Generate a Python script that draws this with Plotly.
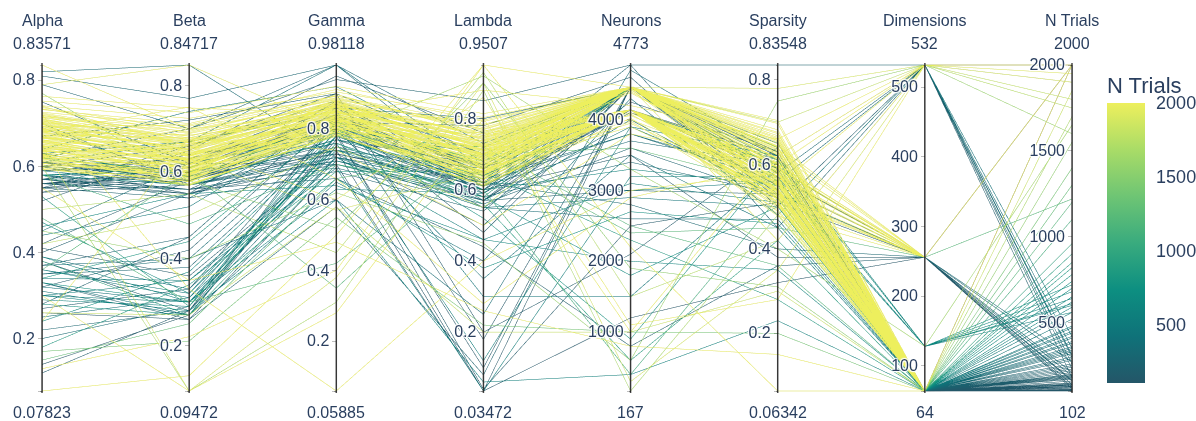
import plotly.graph_objects as go

# Trial records, one entry per run.
# Blocks inside each list: long tuned runs (two neuron settings), short runs, extra short runs, scattered runs.
alpha = [
    0.662, 0.694, 0.631, 0.713, 0.648, 0.683, 0.618, 0.726, 0.641, 0.674, 0.702, 0.607, 0.741, 0.657, 0.689, 0.598, 0.732, 0.652, 0.679, 0.626,
    0.708, 0.669, 0.637, 0.719, 0.593, 0.752, 0.665, 0.697, 0.622, 0.715, 0.646, 0.686, 0.634, 0.705, 0.659, 0.737, 0.611, 0.672, 0.643, 0.699,
    0.763, 0.624, 0.681, 0.655, 0.711, 0.603, 0.692, 0.667, 0.628, 0.722,
    0.638, 0.671, 0.614, 0.703, 0.627, 0.659, 0.601, 0.692, 0.649, 0.681, 0.619, 0.714, 0.636, 0.668, 0.594, 0.724, 0.656, 0.633, 0.688, 0.612,
    0.677, 0.645, 0.623, 0.698, 0.641, 0.734, 0.604, 0.673, 0.662, 0.629, 0.709, 0.617, 0.684, 0.652, 0.693, 0.608, 0.644, 0.701, 0.666, 0.626,
    0.661, 0.718, 0.597, 0.679, 0.647, 0.621, 0.687, 0.639, 0.706, 0.669,
    0.57, 0.59, 0.55, 0.82, 0.79, 0.38, 0.33, 0.30, 0.26, 0.22, 0.40, 0.47, 0.52, 0.58, 0.61, 0.35, 0.29, 0.14, 0.18, 0.37,
    0.56, 0.64, 0.75, 0.31, 0.42, 0.24, 0.58, 0.53, 0.60, 0.69, 0.36, 0.33, 0.27, 0.45, 0.56, 0.63, 0.39, 0.12, 0.57, 0.81,
    0.34, 0.60, 0.28, 0.70, 0.55, 0.46, 0.62, 0.32, 0.59, 0.20, 0.57, 0.67, 0.38, 0.58, 0.44, 0.54, 0.30, 0.61, 0.25, 0.56,
    0.58, 0.56, 0.60, 0.57, 0.55, 0.62, 0.59, 0.35, 0.32, 0.39, 0.28, 0.41, 0.58, 0.61, 0.56, 0.33, 0.57, 0.60, 0.37, 0.54,
    0.63, 0.30, 0.58, 0.55, 0.59, 0.36, 0.57, 0.61, 0.34, 0.56,
    0.83571, 0.79, 0.07823, 0.26, 0.13, 0.65, 0.60, 0.30, 0.72, 0.17, 0.15, 0.50, 0.45, 0.68, 0.77, 0.36, 0.58, 0.74, 0.42, 0.55,
    0.62, 0.70, 0.48, 0.24,
]
beta = [
    0.643, 0.668, 0.612, 0.694, 0.621, 0.657, 0.598, 0.706, 0.633, 0.647, 0.683, 0.588, 0.724, 0.652, 0.671, 0.579, 0.712, 0.627, 0.664, 0.616,
    0.676, 0.638, 0.603, 0.689, 0.584, 0.737, 0.661, 0.645, 0.609, 0.701, 0.641, 0.624, 0.655, 0.667, 0.606, 0.697, 0.594, 0.679, 0.631, 0.651,
    0.748, 0.592, 0.686, 0.618, 0.663, 0.601, 0.709, 0.636, 0.596, 0.674,
    0.608, 0.632, 0.588, 0.661, 0.597, 0.623, 0.578, 0.652, 0.613, 0.641, 0.591, 0.674, 0.618, 0.628, 0.571, 0.683, 0.621, 0.602, 0.654, 0.583,
    0.637, 0.609, 0.586, 0.664, 0.598, 0.691, 0.573, 0.629, 0.617, 0.596, 0.669, 0.581, 0.643, 0.606, 0.648, 0.589, 0.603, 0.658, 0.626, 0.577,
    0.619, 0.679, 0.569, 0.639, 0.611, 0.593, 0.651, 0.599, 0.672, 0.627,
    0.55, 0.62, 0.60, 0.84717, 0.70, 0.28, 0.27, 0.30, 0.26, 0.28, 0.55, 0.32, 0.65, 0.56, 0.67, 0.40, 0.29, 0.27, 0.34, 0.45,
    0.60, 0.74, 0.62, 0.27, 0.58, 0.37, 0.54, 0.29, 0.66, 0.58, 0.31, 0.26, 0.33, 0.62, 0.59, 0.67, 0.30, 0.28, 0.56, 0.77,
    0.35, 0.63, 0.27, 0.57, 0.66, 0.55, 0.70, 0.30, 0.61, 0.29, 0.64, 0.72, 0.27, 0.57, 0.52, 0.62, 0.28, 0.60, 0.31, 0.61,
    0.57, 0.55, 0.59, 0.56, 0.58, 0.60, 0.57, 0.38, 0.42, 0.33, 0.45, 0.36, 0.61, 0.58, 0.56, 0.30, 0.62, 0.55, 0.40, 0.57,
    0.59, 0.35, 0.60, 0.54, 0.63, 0.32, 0.59, 0.57, 0.44, 0.58,
    0.70, 0.84717, 0.13, 0.27, 0.22, 0.09472, 0.09472, 0.09472, 0.33, 0.21, 0.25, 0.55, 0.40, 0.75, 0.58, 0.60, 0.48, 0.66, 0.50, 0.35,
    0.57, 0.63, 0.30, 0.68,
]
gamma = [
    0.843, 0.862, 0.818, 0.884, 0.829, 0.853, 0.807, 0.893, 0.838, 0.866, 0.874, 0.797, 0.905, 0.826, 0.851, 0.788, 0.912, 0.821, 0.879, 0.812,
    0.858, 0.841, 0.833, 0.871, 0.801, 0.921, 0.847, 0.831, 0.816, 0.889, 0.864, 0.836, 0.855, 0.809, 0.876, 0.883, 0.827, 0.861, 0.803, 0.898,
    0.845, 0.852, 0.823, 0.881, 0.867, 0.814, 0.894, 0.834, 0.872, 0.849,
    0.819, 0.838, 0.802, 0.861, 0.811, 0.828, 0.793, 0.852, 0.822, 0.843, 0.804, 0.869, 0.827, 0.849, 0.784, 0.878, 0.816, 0.808, 0.857, 0.798,
    0.837, 0.826, 0.791, 0.864, 0.818, 0.887, 0.781, 0.842, 0.831, 0.803, 0.872, 0.812, 0.846, 0.821, 0.858, 0.794, 0.807, 0.876, 0.839, 0.799,
    0.829, 0.868, 0.786, 0.851, 0.823, 0.801, 0.863, 0.814, 0.881, 0.834,
    0.72, 0.78, 0.80, 0.72, 0.98118, 0.84, 0.80, 0.76, 0.70, 0.72, 0.88, 0.74, 0.95, 0.66, 0.98118, 0.60, 0.82, 0.78, 0.68, 0.86,
    0.74, 0.92, 0.70, 0.65, 0.84, 0.78, 0.82, 0.76, 0.90, 0.80, 0.71, 0.58, 0.82, 0.79, 0.73, 0.85, 0.63, 0.77, 0.81, 0.98118,
    0.69, 0.87, 0.80, 0.74, 0.88, 0.64, 0.94, 0.72, 0.83, 0.75, 0.79, 0.90, 0.70, 0.77, 0.83, 0.86, 0.60, 0.82, 0.78, 0.84,
    0.74, 0.70, 0.78, 0.69, 0.76, 0.80, 0.72, 0.79, 0.83, 0.75, 0.86, 0.73, 0.81, 0.77, 0.71, 0.66, 0.84, 0.75, 0.80, 0.73,
    0.79, 0.72, 0.76, 0.68, 0.83, 0.78, 0.74, 0.71, 0.82, 0.77,
    0.84, 0.80, 0.50, 0.58, 0.40, 0.38, 0.31, 0.28, 0.05885, 0.55, 0.66, 0.45, 0.62, 0.66, 0.52, 0.35, 0.70, 0.60, 0.75, 0.48,
    0.78, 0.57, 0.42, 0.74,
]
lambda_ = [
    0.712, 0.744, 0.683, 0.771, 0.697, 0.733, 0.662, 0.784, 0.691, 0.724, 0.752, 0.648, 0.803, 0.703, 0.726, 0.641, 0.792, 0.674, 0.741, 0.688,
    0.763, 0.715, 0.671, 0.736, 0.632, 0.814, 0.706, 0.748, 0.679, 0.775, 0.721, 0.709, 0.657, 0.738, 0.694, 0.781, 0.644, 0.729, 0.701, 0.757,
    0.796, 0.668, 0.719, 0.686, 0.753, 0.652, 0.769, 0.699, 0.663, 0.745,
    0.661, 0.692, 0.638, 0.718, 0.653, 0.681, 0.621, 0.709, 0.667, 0.698, 0.628, 0.737, 0.659, 0.688, 0.612, 0.748, 0.676, 0.647, 0.722, 0.631,
    0.703, 0.672, 0.642, 0.728, 0.657, 0.766, 0.614, 0.694, 0.679, 0.636, 0.741, 0.623, 0.713, 0.668, 0.724, 0.629, 0.651, 0.733, 0.701, 0.618,
    0.684, 0.757, 0.609, 0.711, 0.664, 0.644, 0.719, 0.649, 0.752, 0.689,
    0.60, 0.65, 0.58, 0.55, 0.62, 0.48, 0.35, 0.12, 0.03472, 0.62, 0.70, 0.58, 0.76, 0.44, 0.66, 0.25, 0.60, 0.10, 0.65, 0.80,
    0.03472, 0.68, 0.57, 0.40, 0.63, 0.72, 0.61, 0.56, 0.20, 0.65, 0.60, 0.08, 0.78, 0.55, 0.62, 0.30, 0.59, 0.67, 0.60, 0.73,
    0.03472, 0.64, 0.52, 0.66, 0.61, 0.46, 0.85, 0.60, 0.18, 0.63, 0.04, 0.70, 0.58, 0.64, 0.62, 0.59, 0.06, 0.67, 0.61, 0.57,
    0.58, 0.60, 0.62, 0.56, 0.59, 0.63, 0.55, 0.64, 0.61, 0.57, 0.66, 0.50, 0.62, 0.60, 0.58, 0.38, 0.65, 0.57, 0.70, 0.61,
    0.64, 0.46, 0.59, 0.54, 0.66, 0.60, 0.62, 0.57, 0.68, 0.60,
    0.88, 0.76, 0.9507, 0.20, 0.9507, 0.90, 0.88, 0.80, 0.40, 0.22, 0.70, 0.93, 0.45, 0.28, 0.90, 0.70, 0.60, 0.86, 0.55, 0.26,
    0.92, 0.65, 0.72, 0.50,
]
neurons = [
    4460, 4460, 4460, 4460, 4420, 4460, 4460, 4460, 4460, 4440, 4460, 4460, 4460, 4460, 4460, 4460, 4460, 4400, 4460, 4460,
    4460, 4460, 4460, 4460, 4430, 4460, 4460, 4460, 4460, 4460, 4460, 4460, 4460, 4460, 4380, 4460, 4460, 4460, 4460, 4460,
    4460, 4460, 4450, 4460, 4460, 4460, 4460, 4460, 4460, 4460,
    4140, 4140, 4140, 4140, 4080, 4140, 4140, 4000, 4140, 4140, 4140, 4140, 3950, 4140, 4140, 4140, 4140, 4140, 4060, 4140,
    4140, 4140, 4140, 4140, 3900, 4140, 4140, 4140, 4140, 4140, 4140, 4020, 4140, 4140, 4140, 4140, 4140, 4140, 4140, 3980,
    4140, 4140, 4140, 4100, 4140, 4140, 4140, 4140, 4140, 4140,
    4460, 4460, 4460, 4000, 4773, 4460, 3500, 3900, 4460, 2800, 4460, 1800, 4460, 800, 4460, 4700, 3300, 4460, 2300, 4460,
    1200, 4460, 3000, 4300, 4460, 4460, 3700, 600, 2100, 4460, 4460, 4460, 4600, 2600, 4460, 1500, 4460, 4460, 3500, 4460,
    3200, 4460, 900, 4460, 4100, 2000, 4773, 4460, 4460, 3800, 2500, 4460, 4460, 4460, 3000, 4460, 400, 4460, 4460, 4250,
    4460, 4140, 4460, 3600, 4140, 4460, 2900, 4460, 4140, 3900, 4460, 4460, 4140, 4460, 3400, 2700, 4460, 4140, 4460, 4460,
    4140, 3100, 4460, 4460, 4140, 4460, 3800, 4460, 4140, 4460,
    4200, 4460, 4460, 1000, 2200, 300, 167, 1000, 3000, 1000, 3600, 1500, 600, 2900, 1900, 2400, 400, 1100, 4460, 800,
    3300, 4460, 2500, 3800,
]
sparsity = [
    0.613, 0.634, 0.582, 0.657, 0.601, 0.626, 0.563, 0.668, 0.591, 0.616, 0.644, 0.551, 0.682, 0.604, 0.631, 0.533, 0.673, 0.578, 0.622, 0.571,
    0.653, 0.593, 0.559, 0.641, 0.524, 0.697, 0.609, 0.636, 0.584, 0.661, 0.598, 0.623, 0.554, 0.649, 0.587, 0.676, 0.542, 0.614, 0.568, 0.639,
    0.704, 0.561, 0.628, 0.592, 0.664, 0.536, 0.642, 0.601, 0.577, 0.656,
    0.538, 0.562, 0.517, 0.584, 0.528, 0.553, 0.502, 0.573, 0.541, 0.558, 0.511, 0.592, 0.534, 0.549, 0.489, 0.603, 0.543, 0.522, 0.571, 0.498,
    0.557, 0.536, 0.509, 0.581, 0.526, 0.614, 0.483, 0.552, 0.539, 0.519, 0.589, 0.504, 0.568, 0.531, 0.577, 0.513, 0.521, 0.598, 0.546, 0.493,
    0.542, 0.594, 0.478, 0.566, 0.529, 0.507, 0.583, 0.518, 0.601, 0.556,
    0.58, 0.56, 0.60, 0.52, 0.83548, 0.55, 0.45, 0.62, 0.57, 0.40, 0.63, 0.50, 0.60, 0.36, 0.58, 0.62, 0.55, 0.61, 0.28, 0.59,
    0.32, 0.64, 0.53, 0.48, 0.57, 0.56, 0.60, 0.42, 0.64, 0.53, 0.58, 0.52, 0.50, 0.47, 0.62, 0.59, 0.56, 0.60, 0.38, 0.65,
    0.57, 0.55, 0.61, 0.58, 0.60, 0.35, 0.45, 0.58, 0.62, 0.57, 0.51, 0.60, 0.55, 0.61, 0.56, 0.57, 0.23, 0.59, 0.56, 0.63,
    0.57, 0.55, 0.60, 0.52, 0.58, 0.61, 0.50, 0.56, 0.59, 0.54, 0.62, 0.57, 0.60, 0.56, 0.53, 0.46, 0.63, 0.55, 0.60, 0.58,
    0.61, 0.51, 0.57, 0.53, 0.62, 0.58, 0.56, 0.59, 0.60, 0.55,
    0.66, 0.42, 0.55, 0.30, 0.06342, 0.35, 0.48, 0.62, 0.58, 0.20, 0.55, 0.42, 0.75, 0.60, 0.31, 0.45, 0.52, 0.28, 0.70, 0.15,
    0.40, 0.78, 0.36, 0.60,
]
dimensions = [
    64, 64, 64, 64, 64, 256, 64, 64, 64, 64, 256, 64, 64, 64, 64, 256, 64, 64, 64, 64,
    64, 256, 64, 64, 64, 64, 64, 256, 64, 64, 64, 64, 256, 64, 64, 64, 64, 64, 256, 64,
    64, 64, 64, 256, 64, 64, 64, 64, 256, 64,
    64, 64, 256, 64, 64, 64, 64, 256, 64, 64, 64, 64, 64, 256, 64, 64, 64, 64, 64, 256,
    64, 64, 64, 64, 256, 64, 64, 64, 64, 64, 256, 64, 64, 64, 64, 64, 256, 64, 64, 64,
    64, 64, 256, 64, 64, 64, 64, 64, 256, 64,
    64, 64, 64, 64, 532, 64, 64, 128, 64, 256, 64, 64, 64, 256, 64, 532, 64, 64, 64, 64,
    256, 64, 64, 532, 64, 128, 64, 64, 64, 256, 64, 64, 532, 64, 64, 64, 128, 64, 256, 64,
    64, 64, 64, 532, 64, 64, 532, 64, 64, 64, 256, 64, 64, 128, 64, 64, 64, 256, 64, 64,
    64, 64, 64, 64, 64, 128, 64, 64, 64, 64, 64, 256, 64, 64, 64, 64, 64, 256, 64, 64,
    64, 64, 128, 64, 64, 64, 532, 64, 64, 64,
    532, 532, 532, 64, 64, 532, 64, 532, 64, 64, 64, 532, 532, 256, 64, 256, 64, 532, 532, 64,
    128, 532, 64, 532,
]
n_trials = [
    2000, 2000, 2000, 2000, 2000, 2000, 2000, 2000, 2000, 2000, 2000, 2000, 2000, 2000, 2000, 2000, 2000, 2000, 2000, 2000,
    2000, 2000, 2000, 2000, 2000, 2000, 2000, 2000, 2000, 2000, 2000, 2000, 2000, 2000, 2000, 2000, 2000, 2000, 2000, 2000,
    2000, 2000, 2000, 2000, 2000, 2000, 2000, 2000, 2000, 2000,
    2000, 2000, 2000, 2000, 2000, 2000, 2000, 2000, 2000, 2000, 2000, 2000, 2000, 2000, 2000, 2000, 2000, 2000, 2000, 2000,
    2000, 2000, 2000, 2000, 2000, 2000, 2000, 2000, 2000, 2000, 2000, 2000, 2000, 2000, 2000, 2000, 2000, 2000, 2000, 2000,
    2000, 2000, 2000, 2000, 2000, 2000, 2000, 2000, 2000, 2000,
    180, 240, 130, 320, 260, 150, 410, 560, 110, 300, 200, 700, 140, 190, 380, 350, 620, 120, 850, 260,
    115, 470, 210, 420, 160, 680, 330, 900, 140, 270, 520, 230, 180, 360, 105, 440, 610, 170, 125, 290,
    560, 145, 780, 300, 190, 650, 230, 410, 125, 340, 160, 220, 960, 720, 480, 135, 590, 210, 380, 102,
    210, 150, 330, 260, 118, 640, 450, 280, 175, 390, 230, 140, 520, 108, 300, 740, 195, 165, 350, 128,
    420, 560, 600, 250, 112, 470, 310, 185, 820, 138,
    2000, 1950, 2000, 1850, 2000, 1900, 1700, 2000, 2000, 1400, 1300, 1750, 1600, 2000, 1550, 1220, 1100, 2000, 1800, 2000,
    1650, 1900, 1200, 2000,
]

labels = ["Alpha", "Beta", "Gamma", "Lambda", "Neurons", "Sparsity", "Dimensions", "N Trials"]
columns = [alpha, beta, gamma, lambda_, neurons, sparsity, dimensions, n_trials]
tick_values = [
    [0.2, 0.4, 0.6, 0.8],
    [0.2, 0.4, 0.6, 0.8],
    [0.2, 0.4, 0.6, 0.8],
    [0.2, 0.4, 0.6, 0.8],
    [1000, 2000, 3000, 4000],
    [0.2, 0.4, 0.6, 0.8],
    [100, 200, 300, 400, 500],
    [500, 1000, 1500, 2000],
]

TEXT_COLOR = "#2a3f5f"
FONT = "Liberation Sans, Arial, sans-serif"


def fmt(v):
    return f"{v:g}"


# Each axis spans its data extent; the extremes are added as unlabeled ticks so the axis line
# runs the full height, and the extent values are written above and below the axis.
dims = []
for lab, col, tv in zip(labels, columns, tick_values):
    lo, hi = min(col), max(col)
    vals = [lo] + tv + [hi]
    text = [""] + [fmt(t) for t in tv] + [""]
    dims.append(dict(label="", values=col, range=[lo, hi], tickvals=vals, ticktext=text))

fig = go.Figure(
    go.Parcoords(
        line=dict(
            color=n_trials,
            colorscale="Aggrnyl",
            showscale=True,
            colorbar=dict(
                title=dict(text="N Trials", font=dict(size=22, color=TEXT_COLOR)),
                tickfont=dict(size=18, color=TEXT_COLOR),
                tickvals=[500, 1000, 1500, 2000],
                ticks="outside",
                ticklen=8,
                tickcolor="rgba(0,0,0,0)",
                thickness=38,
                x=1.034,
                xpad=0,
            ),
        ),
        dimensions=dims,
        tickfont=dict(size=16, color=TEXT_COLOR),
    )
)

n_axes = len(labels)
annotations = []
shapes = []
for i, (lab, col) in enumerate(zip(labels, columns)):
    x = i / (n_axes - 1)
    for text, y in [(lab, 1.1303), (fmt(max(col)), 1.0606), (fmt(min(col)), -0.0606)]:
        annotations.append(
            dict(
                x=x, y=y, xref="paper", yref="paper", text=text, showarrow=False,
                xanchor="center", yanchor="middle",
                font=dict(size=16, color=TEXT_COLOR, family=FONT),
            )
        )
    # darker axis spine drawn over the line canvas
    shapes.append(
        dict(
            type="line", xref="paper", yref="paper", x0=x, x1=x, y0=0, y1=1,
            line=dict(color="rgba(40,40,40,0.85)", width=1.5), layer="above",
        )
    )

fig.update_layout(
    width=1196,
    height=421,
    margin=dict(l=42, r=124, t=63, b=28, autoexpand=False),
    font=dict(family=FONT, color=TEXT_COLOR),
    paper_bgcolor="white",
    annotations=annotations,
    shapes=shapes,
)

fig.write_html("out.html")
